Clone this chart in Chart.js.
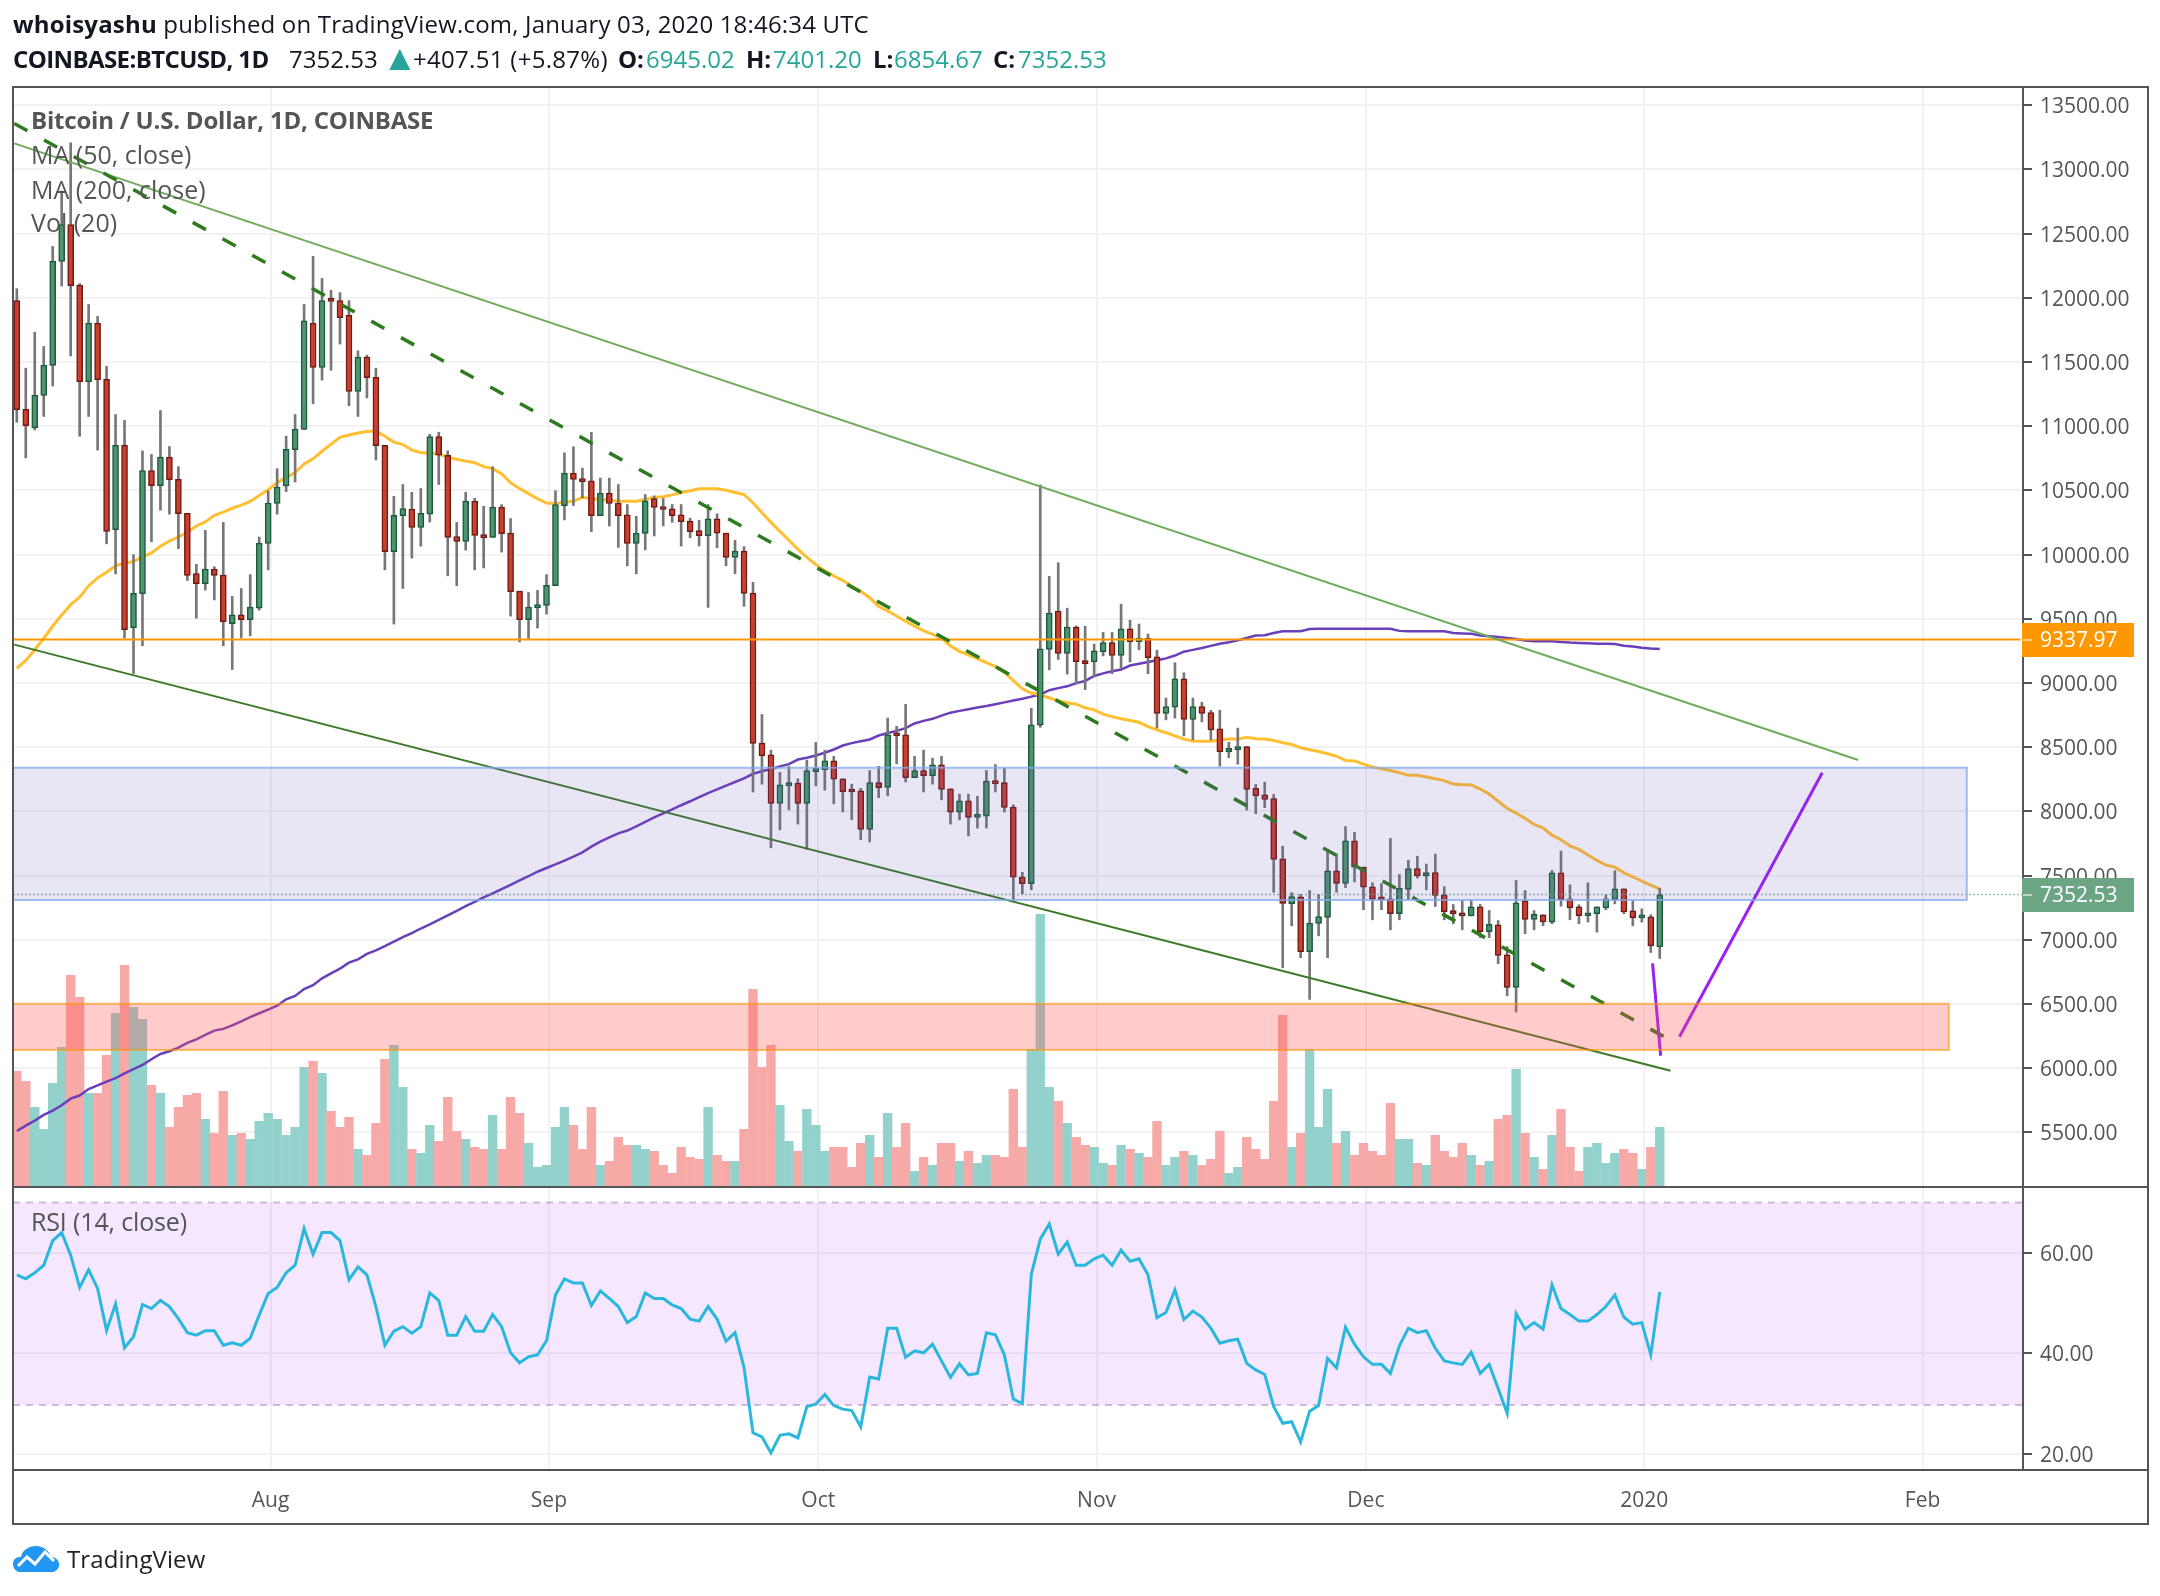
<!DOCTYPE html>
<html><head><meta charset="utf-8"><title>BTCUSD</title>
<script src="https://cdn.jsdelivr.net/npm/chart.js@4"></script>
<style>
html,body{margin:0;padding:0;background:#fff;width:2160px;height:1596px;overflow:hidden}
canvas{position:absolute;left:0}
#c1{top:0}#c2{top:1187px}
.t{position:absolute;white-space:nowrap;font-family:"Open Sans",sans-serif;line-height:1;transform:translateY(-50%)}
.h{font-size:24px;color:#131722}
.b{font-weight:700}.g{color:#26a69a}
.p{font-size:25px;color:#555}
.frame{position:absolute;left:12px;top:86px;width:2133px;height:1435px;border:2px solid #555;pointer-events:none}
</style></head><body>
<canvas id="c1" width="2160" height="1187"></canvas>
<canvas id="c2" width="2160" height="409"></canvas>
<div class="frame"></div>
<div class="t h" style="left:13px;top:24px;letter-spacing:.18px"><span class="b">whoisyashu</span> published on TradingView.com, January 03, 2020 18:46:34 UTC</div>
<div class="t h b" style="left:13px;top:59px;letter-spacing:-.6px">COINBASE:BTCUSD, 1D</div>
<div class="t h" style="left:289px;top:59px">7352.53</div>
<div class="t h g" style="left:382px;top:57px;font-size:36px">▲</div>
<div class="t h" style="left:413px;top:59px;letter-spacing:.3px">+407.51 (+5.87%)</div>
<div class="t h b" style="left:618px;top:59px">O:</div><div class="t h g" style="left:646px;top:59px">6945.02</div>
<div class="t h b" style="left:746px;top:59px">H:</div><div class="t h g" style="left:773px;top:59px">7401.20</div>
<div class="t h b" style="left:873px;top:59px">L:</div><div class="t h g" style="left:894px;top:59px">6854.67</div>
<div class="t h b" style="left:993px;top:59px">C:</div><div class="t h g" style="left:1018px;top:59px">7352.53</div>
<div class="t p b" style="left:31px;top:120px;font-size:24px;letter-spacing:-.2px">Bitcoin / U.S. Dollar, 1D, COINBASE</div>
<div class="t p" style="left:31px;top:154px">MA (50, close)</div>
<div class="t p" style="left:31px;top:189px">MA (200, close)</div>
<div class="t p" style="left:31px;top:222px">Vol (20)</div>
<div class="t p" style="left:31px;top:1221px;letter-spacing:-.15px">RSI (14, close)</div>
<svg style="position:absolute;left:12px;top:1542px" width="48" height="32" viewBox="0 0 48 32"><path d="M2 26C-1 20 3 14 9 15 10 8 17 4 24 4c8 0 13 5 15 11 5 0 9 4 8 9-1 4-4 6-8 6H8c-3 0-5-2-6-4z" fill="#2196f3"/><path d="M6 24l9-9 8 7 10-12 9 9" fill="none" stroke="#fff" stroke-width="3"/></svg>
<div class="t" style="left:67px;top:1559px;font-size:24px;color:#222;letter-spacing:.1px">TradingView</div>
<script>
const priceTicks=[5500,6000,6500,7000,7500,8000,8500,9000,9500,10000,10500,11000,11500,12000,12500,13000,13500];
const rsiTicks=[20,40,60];
const monthTicks=[28.27,59.27,89.27,120.27,150.27,181.27,212.27];
const monthLabels=['Aug','Sep','Oct','Nov','Dec','2020','Feb'];
const opens=[11978,11131,10987,11239,11473,12283,12570,12099,11347,11803,11366,10195,10851,9431,9696,10654,10537,10759,10586,10321,9853,9773,9887,9841,9462,9530,9493,9582,10087,10398,10534,10817,10974,11803,11458,11978,11978,11864,11270,11538,11381,10851,10023,10303,10355,10211,10315,10919,10774,10140,10103,10417,10155,10133,10371,10167,9715,9493,9585,9604,9758,10382,10635,10593,10574,10304,10479,10401,10309,10087,10165,10437,10373,10357,10309,10262,10187,10148,10279,10167,9978,10028,9700,8532,8440,8062,8199,8221,8062,8310,8326,8393,8254,8162,8160,7859,8224,8187,8599,8596,8262,8318,8279,8363,8176,7995,8082,7954,7962,8240,8224,8034,7489,7437,8671,9261,9561,9230,9436,9175,9164,9244,9314,9214,9422,9322,9347,9203,8763,8811,9033,8716,8816,8769,8644,8463,8480,8505,8179,8129,8099,7631,7281,7334,6908,7128,7175,7537,7439,7770,7567,7412,7323,7320,7203,7392,7554,7498,7523,7351,7228,7211,7186,7256,7064,7117,6883,6630,7303,7159,7195,7138,7522,7319,7257,7187,7203,7249,7312,7397,7226,7171,7179,6945.02];
const closes=[11128,11005,11242,11476,12286,12570,12095,11347,11803,11362,10180,10851,9416,9699,10654,10537,10759,10583,10318,9838,9773,9887,9838,9477,9530,9493,9591,10090,10401,10525,10820,10977,11821,11458,11978,11972,11846,11270,11538,11378,10848,10023,10306,10358,10211,10321,10919,10774,10133,10103,10417,10149,10130,10371,10164,9712,9493,9591,9610,9761,10389,10635,10585,10568,10304,10479,10398,10304,10087,10167,10418,10368,10351,10304,10256,10179,10148,10279,10167,9978,10028,9697,8529,8435,8062,8207,8224,8062,8318,8335,8393,8251,8154,8151,7859,8224,8185,8596,8588,8262,8318,8279,8363,8171,7995,8082,7954,7976,8237,8215,8032,7487,7437,8674,9266,9545,9230,9436,9166,9150,9250,9314,9214,9422,9322,9347,9197,8763,8816,9033,8716,8816,8763,8635,8466,8491,8505,8171,8121,8093,7626,7284,7337,6908,7131,7181,7537,7439,7770,7565,7409,7314,7312,7203,7401,7554,7498,7523,7345,7220,7203,7186,7256,7064,7120,6878,6630,7287,7159,7198,7139,7522,7312,7249,7187,7210,7257,7319,7397,7218,7171,7182,6953,7352.53];
const highs=[12071,11452,11732,11621,12400,12832,13207,12110,11948,11855,11467,11091,11045,10000,10808,10780,11122,10842,10685,10321,9924,10189,9906,10251,9675,9736,9844,10137,10497,10669,10922,11091,11948,12323,12151,12059,12040,11978,11587,11553,11452,10851,10454,10546,10485,10515,10937,10953,10808,10251,10485,10438,10377,10685,10389,10281,9715,9705,9721,9844,10497,10793,10840,10674,10952,10596,10596,10546,10390,10298,10468,10457,10437,10390,10390,10284,10268,10390,10318,10167,10112,10062,9784,8755,8477,8304,8351,8254,8399,8538,8477,8429,8254,8212,8179,8318,8351,8727,8663,8833,8429,8477,8415,8429,8176,8135,8135,8118,8318,8365,8338,8051,7526,8802,10543,9831,9937,9583,9445,9442,9303,9394,9394,9614,9489,9459,9381,9256,8883,9158,9080,8883,8850,8788,8788,8538,8649,8505,8210,8227,8132,7729,7367,7353,7384,7353,7695,7668,7882,7837,7567,7445,7437,7790,7509,7620,7651,7590,7668,7414,7275,7306,7306,7275,7228,7150,6947,7462,7384,7228,7195,7540,7691,7428,7273,7444,7257,7351,7538,7397,7304,7241,7195,7401.20];
const lows=[11030,10753,10971,11076,11313,12092,11547,10922,11076,10814,10084,9850,9351,9074,9290,10100,10346,10315,10047,9798,9505,9724,9647,9290,9105,9351,9367,9567,9881,10315,10491,10565,10974,11175,11359,11436,11640,11159,11076,11221,10737,9881,9459,9736,9973,10066,10254,10546,9835,9758,10035,9881,9896,10133,10020,9521,9320,9336,9428,9536,9758,10270,10382,10443,10179,10304,10223,10056,9912,9850,10037,10145,10223,10251,10067,10131,10067,9589,10053,9912,9850,9597,8151,8212,7717,7856,8012,7901,7704,8199,8165,8059,7995,7934,7779,7762,8107,8121,8371,8229,8262,8151,8212,8090,7901,7934,7809,7870,7870,8151,7995,7295,7359,7389,8655,9102,9183,9069,8991,8949,9047,9211,9072,9116,9164,9258,9072,8649,8713,8727,8588,8557,8697,8557,8352,8418,8368,8010,7982,8029,7370,6783,7109,6861,6536,7031,6861,7370,7406,7451,7234,7156,7234,7078,7156,7314,7481,7389,7259,7156,7125,7078,7186,7017,7017,6814,6564,6438,7047,7078,7109,7125,7262,7156,7125,7138,7060,7234,7280,7203,7109,7138,6901,6854.67];
const volumes=[348,318,240,174,312,420,636,570,282,282,396,522,666,540,504,306,282,180,240,276,282,204,162,288,156,162,144,198,222,204,156,180,360,378,342,228,180,210,114,96,192,384,426,300,114,102,186,138,270,168,144,120,114,216,114,270,222,132,60,66,180,240,186,114,240,66,78,150,126,126,114,108,66,42,120,90,84,240,96,78,78,174,594,360,426,246,138,108,234,186,108,120,120,60,132,156,90,222,120,192,48,90,66,132,132,78,108,72,96,96,90,294,120,414,819,300,258,192,150,126,120,72,66,126,114,102,90,198,66,90,108,96,66,84,168,42,60,150,114,84,258,516,120,162,414,180,294,132,168,96,132,108,96,252,144,144,72,66,156,108,90,132,96,66,78,204,216,354,162,90,54,156,234,120,48,120,132,72,102,114,102,54,120,180];
const ma50=[9114,9176,9259,9348,9444,9530,9610,9668,9758,9819,9862,9912,9933,9946,9983,10013,10066,10106,10137,10174,10223,10254,10306,10331,10361,10386,10414,10460,10506,10559,10602,10639,10706,10746,10805,10860,10913,10931,10947,10959,10962,10922,10876,10857,10814,10796,10790,10783,10759,10743,10728,10716,10685,10670,10630,10559,10515,10475,10435,10401,10398,10407,10415,10446,10434,10429,10423,10418,10415,10415,10429,10446,10451,10465,10484,10498,10512,10512,10512,10501,10484,10468,10404,10326,10251,10181,10112,10042,9978,9923,9873,9834,9798,9756,9714,9664,9595,9561,9522,9481,9442,9408,9378,9347,9289,9247,9219,9189,9158,9127,9083,9019,8955,8922,8908,8883,8863,8846,8835,8807,8791,8758,8738,8722,8708,8694,8660,8635,8613,8588,8563,8549,8546,8546,8557,8563,8563,8577,8566,8563,8552,8535,8521,8496,8480,8466,8449,8430,8396,8393,8368,8346,8332,8318,8302,8282,8282,8268,8254,8240,8213,8207,8207,8174,8135,8079,8024,7987,7946,7898,7871,7815,7779,7732,7704,7660,7618,7582,7566,7522,7491,7457,7426,7395];
const ma200=[5511,5553,5592,5636,5670,5711,5763,5787,5838,5867,5896,5922,5960,5992,6025,6070,6111,6132,6160,6197,6225,6259,6293,6306,6334,6365,6397,6428,6456,6487,6537,6563,6617,6646,6700,6739,6776,6822,6848,6890,6918,6950,6985,7020,7052,7088,7120,7156,7190,7225,7262,7295,7330,7362,7395,7428,7462,7495,7530,7559,7587,7617,7648,7681,7726,7765,7798,7829,7851,7884,7918,7954,7984,8015,8048,8079,8112,8143,8171,8201,8229,8257,8293,8313,8329,8351,8368,8404,8418,8435,8457,8482,8513,8532,8546,8560,8591,8610,8627,8649,8685,8705,8721,8746,8769,8783,8796,8810,8821,8835,8849,8863,8877,8894,8910,8944,8960,8974,8999,9016,9055,9075,9091,9105,9136,9150,9164,9178,9192,9214,9244,9258,9272,9289,9306,9317,9333,9350,9370,9372,9389,9403,9403,9403,9420,9422,9422,9422,9422,9422,9422,9422,9422,9422,9406,9403,9403,9403,9403,9403,9389,9386,9383,9370,9364,9358,9350,9342,9331,9325,9325,9325,9320,9315,9312,9310,9305,9305,9303,9290,9285,9275,9268,9265];
const rsi=[55.6,54.8,56.0,57.5,62.4,64.0,59.5,53.1,56.6,52.9,44.5,49.8,41.1,43.3,49.7,48.9,50.5,49.3,46.9,44.1,43.6,44.5,44.5,41.6,42.1,41.6,43.0,47.6,51.9,53.1,56.0,57.5,64.8,59.7,64.0,64.0,62.4,54.6,57.2,55.6,49.3,41.6,44.4,45.3,44.0,45.3,52.0,50.5,43.6,43.6,47.3,44.4,44.4,47.7,45.3,40.1,38.1,39.3,39.7,42.5,51.6,54.8,54.0,54.0,49.5,52.4,50.9,49.3,46.1,47.3,52.0,50.9,50.9,49.6,48.9,46.8,46.4,49.3,46.8,42.4,44.1,37.2,24.2,23.4,20.2,23.7,24.0,23.2,29.4,29.9,31.8,29.6,28.9,28.6,25.4,35.3,34.9,45.0,45.0,39.2,40.5,40.1,41.8,38.5,35.2,37.9,35.7,36.0,44.1,43.7,39.7,30.9,30.0,55.7,62.7,65.7,59.7,62.1,57.5,57.5,58.8,59.5,57.5,60.5,58.3,58.8,55.6,47.1,48.1,52.6,46.7,48.4,47.2,45.0,42.0,42.5,42.8,38.0,36.7,35.8,29.4,26.1,26.4,22.4,28.5,29.6,39.0,37.1,45.2,41.8,39.3,37.8,37.8,36.0,41.5,45.0,44.1,44.5,41.0,38.5,38.1,37.8,40.2,36.0,37.8,33.0,28.1,47.9,44.8,46.1,44.8,53.6,48.9,47.7,46.4,46.4,47.7,49.3,51.6,47.2,45.8,46.1,39.7,52.2];
const lastPrice=7352.53, levelPrice=9337.97;
const trendUpper=[[-0.28,13203],[205.1,8400]];
const trendLower=[[-0.28,9299],[184.2,5980]];
const trendMid=[[-0.28,13357],[184.5,6206]];
const arrowDown=[[182.2,6817],[183.1,6097]];
const arrowUp=[[185.2,6245],[201.1,8301]];
const zoneBlue=[-1,217.2,8340,7310];
const zoneRed=[-1,215.2,6502,6142];
const rsiBand=[70,29.7];

Chart.defaults.animation=false;
Chart.defaults.devicePixelRatio=1;
const FONT={family:'"Open Sans",sans-serif',size:21};
const AXIS='#555', GRID='#f2f2f2';
const xMin=-0.423,xMax=223.46;
const idx=opens.map((_,i)=>i);
const up=i=>closes[i]>=opens[i];
const pts=a=>a.map(p=>({x:p[0],y:p[1]}));
const seg=(data,color,width,order,dash)=>({type:'line',data:pts(data),borderColor:color,borderWidth:width,pointRadius:0,tension:0,order,borderDash:dash||[],borderCapStyle:'butt',yAxisID:'y'});
const noPad=s=>{s.paddingTop=0;s.paddingBottom=0;s.paddingLeft=0;s.paddingRight=0;};
const xScale=(labels)=>({type:'linear',min:xMin,max:xMax,offset:false,
  grid:{color:GRID,lineWidth:2,drawTicks:false,offset:false},border:{display:false},
  afterBuildTicks:s=>{s.ticks=monthTicks.map(v=>({value:v}));},
  ticks:labels?{autoSkip:false,maxRotation:0,padding:18,color:AXIS,font:FONT,callback:(v)=>{const k=monthTicks.indexOf(v);return k<0?'':monthLabels[k];}}:{display:false},
  afterFit:s=>{s.height=labels?52:0;noPad(s);}});
const yScale=(min,max,ticks)=>({type:'linear',position:'right',min,max,
  grid:{color:GRID,lineWidth:2,tickColor:AXIS,tickLength:9,tickWidth:2},
  border:{display:true,color:AXIS,width:2},
  afterBuildTicks:s=>{s.ticks=ticks.map(v=>({value:v}));},
  ticks:{autoSkip:false,padding:8,color:AXIS,font:{...FONT,lineHeight:0.2},callback:v=>['',Number(v).toFixed(2)]},
  afterFit:s=>{s.width=124;noPad(s);}});

const overlay={id:'overlay',
 afterDatasetsDraw(c){
  const {ctx,scales:{x,y},chartArea:a}=c;
  const zone=(z,fill,stroke)=>{
    const l=Math.max(x.getPixelForValue(z[0]),a.left-3),r=x.getPixelForValue(z[1]),t=y.getPixelForValue(z[2]),b=y.getPixelForValue(z[3]);
    ctx.save();ctx.beginPath();ctx.rect(a.left,a.top,a.right-a.left,a.bottom-a.top);ctx.clip();
    ctx.fillStyle=fill;ctx.fillRect(l,t,r-l,b-t);
    ctx.strokeStyle=stroke;ctx.lineWidth=2;ctx.strokeRect(l,t,r-l,b-t);ctx.restore();};
  zone(zoneBlue,'rgba(100,80,180,.15)','rgba(130,170,235,.75)');
  zone(zoneRed,'rgba(255,82,82,.3)','rgba(255,152,0,.6)');
 },
 afterDraw(c){
  const {ctx,scales:{y},chartArea:a}=c;
  const tag=(v,bg)=>{const py=y.getPixelForValue(v);
    ctx.save();ctx.fillStyle=bg;ctx.fillRect(a.right-1,Math.round(py)-17,112,34);
    ctx.fillStyle='rgba(255,255,255,.55)';ctx.fillRect(a.right,Math.round(py)-1,9,2);
    ctx.fillStyle='#fff';ctx.font='21px "Open Sans",sans-serif';ctx.textBaseline='middle';ctx.textAlign='left';
    ctx.fillText(v.toFixed(2),2040,py+1);ctx.restore();};
  tag(levelPrice,'#ff9800');tag(lastPrice,'#6ca584');
  ctx.save();ctx.fillStyle=AXIS;ctx.fillRect(a.left,a.bottom-1,2147-a.left,1);ctx.restore();
 }};
const band={id:'band',beforeDatasetsDraw(c){
  const {ctx,scales:{y},chartArea:a}=c;
  const t=y.getPixelForValue(rsiBand[0]),b=y.getPixelForValue(rsiBand[1]);
  ctx.save();ctx.fillStyle='rgba(153,21,255,.1)';ctx.fillRect(a.left,t,a.right-a.left,b-t);
  ctx.strokeStyle='rgba(150,120,170,.45)';ctx.lineWidth=2;ctx.setLineDash([7,6]);
  [t,b].forEach(p=>{ctx.beginPath();ctx.moveTo(a.left,p);ctx.lineTo(a.right,p);ctx.stroke();});ctx.restore();},
 afterDraw(c){const {ctx,chartArea:a}=c;ctx.save();ctx.fillStyle=AXIS;ctx.fillRect(a.left,a.bottom-1,2147-a.left,2);ctx.fillRect(a.left,0,2147-a.left,1);ctx.restore();}};

new Chart(document.getElementById('c1'),{type:'bar',
 data:{datasets:[
  seg(trendMid,'#2e7a1e',3.5,3,[15,19]),
  seg(trendUpper,'#6fac5a',2,3),
  seg(trendLower,'#3c7a28',2,3),
  seg(arrowDown,'#9c1ff5',3,2),
  seg(arrowUp,'#9c1ff5',3,2),
  seg([[xMin,levelPrice],[xMax-0.3,levelPrice]],'#ff9800',2,4),
  seg([[xMin,lastPrice],[xMax,lastPrice]],'rgba(108,165,132,.7)',1.5,4,[2,2]),
  {type:'bar',data:idx.map(i=>({x:i,y:[opens[i],closes[i]]})),barThickness:6,borderWidth:1.5,borderSkipped:false,minBarLength:3,grouped:false,order:6,yAxisID:'y',
   backgroundColor:c=>up(c.dataIndex)?'#4f9470':'#c9402f',borderColor:c=>up(c.dataIndex)?'#1d5a3b':'#6f1a14'},
  {type:'bar',data:idx.map(i=>({x:i,y:[lows[i],highs[i]]})),barThickness:2,backgroundColor:'#777',grouped:false,order:7,yAxisID:'y'},
  {type:'line',data:idx.map(i=>({x:i,y:ma50[i]})),borderColor:'#ffbf30',borderWidth:3,pointRadius:0,tension:0,order:8,yAxisID:'y'},
  {type:'line',data:idx.map(i=>({x:i,y:ma200[i]})),borderColor:'#6a3fba',borderWidth:2.5,pointRadius:0,tension:0,order:9,yAxisID:'y'},
  {type:'bar',data:idx.map(i=>({x:i,y:volumes[i]})),barThickness:9.4,grouped:false,order:10,yAxisID:'yv',inflateAmount:0,
   backgroundColor:c=>up(c.dataIndex)?'#93d2cc':'#f7a9a7'}
 ]},
 options:{responsive:false,layout:{autoPadding:false,padding:{left:13,top:87,right:13,bottom:0}},
  plugins:{legend:{display:false},tooltip:{enabled:false}},
  scales:{x:xScale(false),y:yScale(5074.8,13641.8,priceTicks),yv:{type:'linear',display:false,min:0,max:3300}}},
 plugins:[overlay]});

new Chart(document.getElementById('c2'),{type:'line',
 data:{datasets:[{data:idx.map(i=>({x:i,y:rsi[i]})),borderColor:'#2ab7dd',borderWidth:3,pointRadius:0,tension:0}]},
 options:{responsive:false,layout:{autoPadding:false,padding:{left:13,top:0,right:13,bottom:74}},
  plugins:{legend:{display:false},tooltip:{enabled:false}},
  scales:{x:xScale(true),y:yScale(16.8,73.06,rsiTicks)}},
 plugins:[band]});
</script></body></html>
